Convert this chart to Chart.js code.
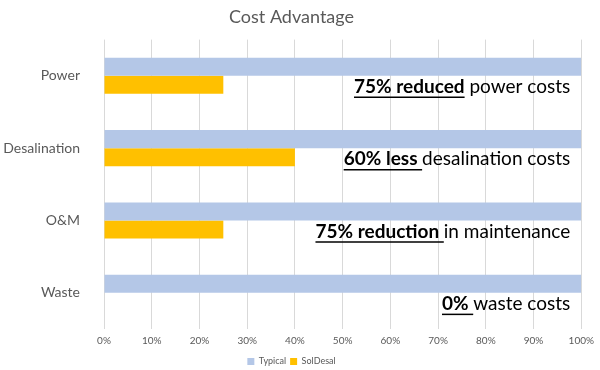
<!DOCTYPE html>
<html>
<head>
<meta charset="utf-8">
<script src="https://cdn.jsdelivr.net/npm/chart.js@4.4.1/dist/chart.umd.min.js"></script>
<style>
  html, body { margin: 0; padding: 0; background: #fff; }
  #wrap { width: 600px; height: 370px; }
</style>
</head>
<body>
<div id="wrap"><canvas id="chartCost"></canvas></div>
<script>
// data
const categories   = ['Power', 'Desalination', 'O&M', 'Waste'];
const typicalVals  = [100, 100, 100, 100];
const solDesalVals = [25, 40, 25, 0];
const noteBold     = ['75% reduced', '60% less ', '75% reduction ', '0% '];
const noteRest     = [' power costs', 'desalination costs', 'in maintenance', 'waste costs'];

const FONT = "Lato, 'Open Sans', sans-serif";
const GREY = '#595959';

// draws the right-hand notes, bold part underlined
const notesPlugin = {
  id: 'notes',
  afterDatasetsDraw(chart) {
    const { ctx, scales } = chart;
    const meta  = chart.getDatasetMeta(1);
    const right = scales.x.getPixelForValue(100) - 11;
    ctx.save();
    ctx.textBaseline = 'middle';
    ctx.fillStyle = '#000';
    ctx.strokeStyle = '#000';
    meta.data.forEach((bar, i) => {
      const y = bar.y + 2;
      ctx.font = '19px ' + FONT;
      const wRest = ctx.measureText(noteRest[i]).width;
      ctx.font = 'bold 19px ' + FONT;
      const wBold = ctx.measureText(noteBold[i]).width;
      const x0 = right - wRest - wBold;
      ctx.textAlign = 'left';
      ctx.fillText(noteBold[i], x0, y);
      ctx.font = '19px ' + FONT;
      ctx.fillText(noteRest[i], x0 + wBold, y);
      ctx.lineWidth = 1.5;
      ctx.beginPath();
      ctx.moveTo(x0, y + 10.5);
      ctx.lineTo(x0 + wBold, y + 10.5);
      ctx.stroke();
    });
    ctx.restore();
  },
};

new Chart(document.getElementById('chartCost'), {
  type: 'bar',
  data: {
    labels: categories,
    datasets: [
      {
        label:           'Typical',
        data:            typicalVals,
        backgroundColor: '#b4c7e7',
        categoryPercentage: 0.5,
        barPercentage:   1.0,
      },
      {
        label:           'SolDesal',
        data:            solDesalVals,
        backgroundColor: '#ffc000',
        categoryPercentage: 0.5,
        barPercentage:   1.0,
      },
    ],
  },
  options: {
    indexAxis: 'y',
    responsive: true,
    maintainAspectRatio: false,
    animation: false,
    layout: { padding: { left: 0, right: 17, top: 4, bottom: -6 } },
    plugins: {
      title: {
        display: true,
        text: 'Cost Advantage',
        color: GREY,
        font: { family: FONT, size: 18, weight: 'normal' },
        padding: { top: 2, bottom: 12 },
      },
      legend: {
        position: 'bottom',
        labels: {
          color: GREY,
          font: { family: FONT, size: 9 },
          boxWidth: 7,
          boxHeight: 7,
          padding: 4,
        },
      },
      tooltip: { enabled: false },
    },
    scales: {
      x: {
        min: 0,
        max: 100,
        ticks: {
          stepSize: 10,
          color: GREY,
          font: { family: FONT, size: 10 },
          callback: v => v + '%',
          padding: 6,
        },
        grid:   { color: '#d9d9d9', drawTicks: false },
        border: { display: false },
      },
      y: {
        ticks: {
          color: GREY,
          font: { family: FONT, size: 14 },
          padding: 16,
        },
        grid:   { display: false },
        border: { display: false },
        afterFit: scale => { scale.width = 104; },
      },
    },
  },
  plugins: [notesPlugin],
});
</script>
</body>
</html>
